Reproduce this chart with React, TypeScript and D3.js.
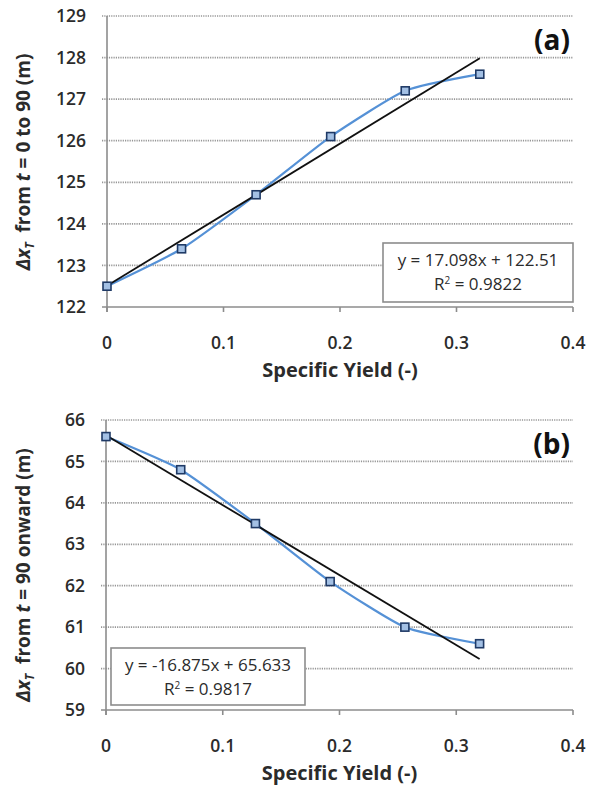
import React from "react";
import * as d3 from "d3";

// Specific yield values of the six simulations
const specificYield = [0, 0.064, 0.128, 0.192, 0.256, 0.32];
// Travel distance of the front, t = 0 to 90 (m)
const shiftEarly = [122.5, 123.4, 124.7, 126.1, 127.2, 127.6];
// Travel distance of the front, t = 90 onward (m)
const shiftLate = [65.6, 64.8, 63.5, 62.1, 61.0, 60.6];

// Linear trend lines (slope, intercept, R²) for panels a and b
const trendSlope = [17.098, -16.875];
const trendIntercept = [122.51, 65.633];
const trendR2 = [0.9822, 0.9817];

const xTicks = [0, 0.1, 0.2, 0.3, 0.4];
const yTicksEarly = [122, 123, 124, 125, 126, 127, 128, 129];
const yTicksLate = [59, 60, 61, 62, 63, 64, 65, 66];
const panelLabels = ["(a)", "(b)"];
const yTitleTails = [" = 0 to 90 (m)", " = 90 onward (m)"];

const FONT = "'Open Sans', 'DejaVu Sans', sans-serif";
const AXIS_GREY = "#8c8c8c";
const TEXT = "#2b2b2b";
const LINE_BLUE = "#5591d6";

type PanelProps = {
  values: number[];
  yTicks: number[];
  idx: number;
  left: number;
  right: number;
  top: number;
  bottom: number;
  legendBox: [number, number, number, number];
  titleCenterY: number;
};

function Panel({ values, yTicks, idx, left, right, top, bottom, legendBox, titleCenterY }: PanelProps) {
  const x = d3.scaleLinear().domain([0, 0.4]).range([left, right]);
  const y = d3
    .scaleLinear()
    .domain([yTicks[0], yTicks[yTicks.length - 1]])
    .range([bottom, top]);

  const pts: [number, number][] = specificYield.map((s, i) => [x(s), y(values[i])]);
  const smooth = d3.line().curve(d3.curveCardinal.tension(0.45))(pts) || "";

  const m = trendSlope[idx];
  const b = trendIntercept[idx];
  const xMax = specificYield[specificYield.length - 1];
  const trend = d3.line()([
    [x(0), y(b)],
    [x(xMax), y(m * xMax + b)],
  ]) || "";

  const eq = `y = ${m}x + ${b}`;
  const [bx, by, bw, bh] = legendBox;
  const plotMidX = (left + right) / 2;

  return (
    <g>
      {/* horizontal dotted gridlines */}
      {yTicks.slice(1).map((t) => (
        <line
          key={"g" + t}
          x1={left - 5}
          x2={right}
          y1={y(t)}
          y2={y(t)}
          stroke="#969696"
          strokeWidth={1.7}
          strokeDasharray="1.2,1.1"
        />
      ))}
      {/* axes */}
      <line x1={left} x2={left} y1={top} y2={bottom + 5} stroke={AXIS_GREY} strokeWidth={1.6} />
      <line x1={left - 5} x2={right} y1={bottom} y2={bottom} stroke={AXIS_GREY} strokeWidth={1.6} />
      {xTicks.map((t) => (
        <line key={"xt" + t} x1={x(t)} x2={x(t)} y1={bottom} y2={bottom + 5} stroke={AXIS_GREY} strokeWidth={1.6} />
      ))}
      {/* tick labels */}
      {yTicks.map((t) => (
        <text
          key={"yl" + t}
          x={left - 21}
          y={y(t)}
          dy="0.35em"
          textAnchor="end"
          fontFamily={FONT}
          fontWeight={600}
          fontSize={17.5}
          fill={TEXT}
        >
          {t}
        </text>
      ))}
      {xTicks.map((t) => (
        <text
          key={"xl" + t}
          x={x(t)}
          y={bottom + 36}
          dy="0.35em"
          textAnchor="middle"
          fontFamily={FONT}
          fontWeight={600}
          fontSize={17.5}
          fill={TEXT}
        >
          {d3.format("")(t)}
        </text>
      ))}
      {/* axis titles */}
      <text
        x={plotMidX}
        y={bottom + 63}
        dy="0.35em"
        textAnchor="middle"
        fontFamily={FONT}
        fontWeight={700}
        fontSize={20}
        fill={TEXT}
      >
        Specific Yield (-)
      </text>
      <text
        transform={`translate(30,${titleCenterY}) rotate(-90)`}
        textAnchor="middle"
        fontFamily={FONT}
        fontWeight={700}
        fontSize={19}
        fill={TEXT}
      >
        <tspan fontStyle="italic">Δx</tspan>
        <tspan fontStyle="italic" fontSize={12} dy={4}>T</tspan>
        <tspan dy={-4}>{"\u00a0 from "}</tspan>
        <tspan fontStyle="italic">t</tspan>
        <tspan>{yTitleTails[idx]}</tspan>
      </text>
      {/* data and trend */}
      <path d={smooth} fill="none" stroke={LINE_BLUE} strokeWidth={2.2} />
      <path d={trend} fill="none" stroke="#111" strokeWidth={1.8} />
      {pts.map(([px, py], i) => (
        <rect
          key={"m" + i}
          x={px - 4}
          y={py - 4}
          width={8}
          height={8}
          fill="#a3c0e4"
          stroke="#1f3a66"
          strokeWidth={1.6}
        />
      ))}
      {/* trend equation box */}
      <rect x={bx} y={by} width={bw} height={bh} fill="#fff" stroke={AXIS_GREY} strokeWidth={1.6} />
      <text
        x={bx + bw / 2}
        y={by + 17}
        dy="0.35em"
        textAnchor="middle"
        fontFamily={FONT}
        fontWeight={500}
        fontSize={17}
        fill={TEXT}
      >
        {eq}
      </text>
      <text
        x={bx + bw / 2}
        y={by + 41}
        dy="0.35em"
        textAnchor="middle"
        fontFamily={FONT}
        fontWeight={500}
        fontSize={17}
        fill={TEXT}
      >
        R<tspan fontSize={10} dy={-6}>2</tspan>
        <tspan dy={6}>{` = ${trendR2[idx]}`}</tspan>
      </text>
      {/* panel label */}
      <text
        x={right - 3}
        y={top + 24}
        dy="0.35em"
        textAnchor="end"
        fontFamily={FONT}
        fontWeight={700}
        fontSize={28}
        fill="#111"
      >
        {panelLabels[idx]}
      </text>
    </g>
  );
}

export default function App() {
  return (
    <svg
      width={594}
      height={788}
      style={{ position: "absolute", left: 0, top: 0, background: "#fff" }}
    >
      <rect width={594} height={788} fill="#fff" />
      <Panel
        values={shiftEarly}
        yTicks={yTicksEarly}
        idx={0}
        left={107}
        right={573}
        top={16}
        bottom={307}
        legendBox={[383, 243, 190, 59]}
        titleCenterY={162}
      />
      <Panel
        values={shiftLate}
        yTicks={yTicksLate}
        idx={1}
        left={106}
        right={573}
        top={420}
        bottom={710}
        legendBox={[111, 648, 194, 57]}
        titleCenterY={575}
      />
    </svg>
  );
}
